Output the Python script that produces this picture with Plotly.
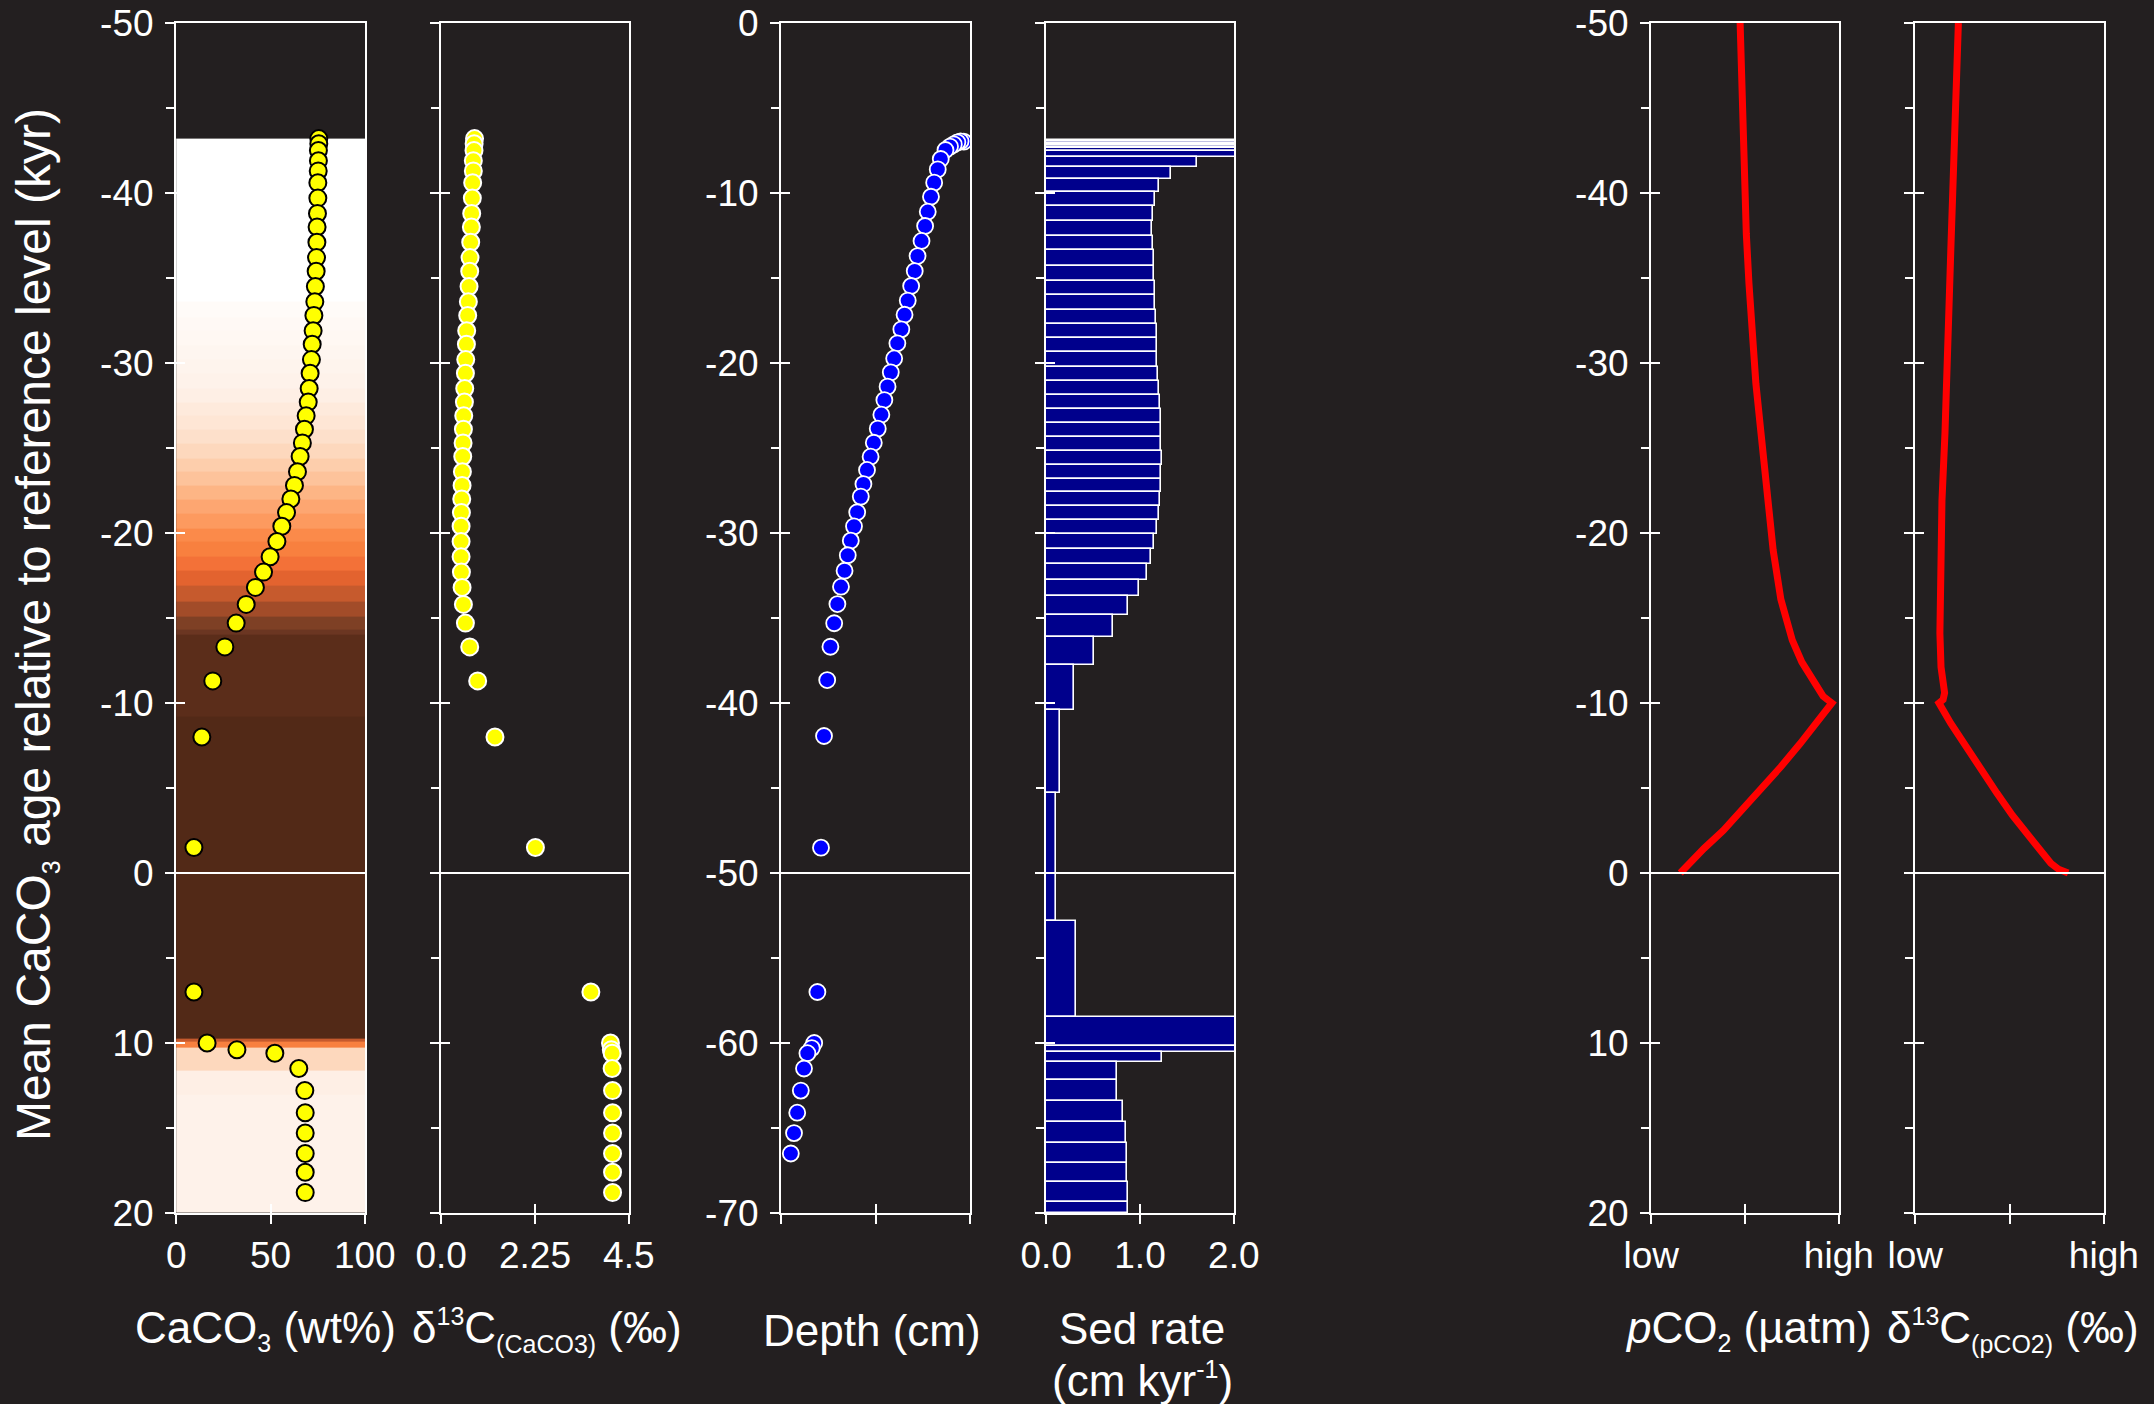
import plotly.graph_objects as go

# ---------------- data ----------------
# Panels 1-2: sample ages (kyr), CaCO3 (wt%), d13C of CaCO3 (permil)
sample_age = [-43.2, -42.9, -42.5, -41.9, -41.3, -40.6, -39.7, -38.8, -38.0, -37.1,
              -36.2, -35.4, -34.5, -33.6, -32.8, -31.9, -31.1, -30.2, -29.4, -28.5,
              -27.7, -26.9, -26.1, -25.3, -24.5, -23.6, -22.8, -22.0, -21.2, -20.4,
              -19.5, -18.6, -17.7, -16.8, -15.8, -14.7, -13.3, -11.3, -8.0, -1.5,
              7.0, 10.0, 10.4, 10.6, 11.5, 12.8, 14.1, 15.3, 16.5, 17.6, 18.8]
caco3 = [75.6, 75.6, 75.4, 75.4, 75.3, 75.1, 75.1, 74.9, 74.7, 74.6,
         74.4, 74.2, 73.8, 73.5, 73.0, 72.6, 72.1, 71.7, 71.0, 70.5,
         70.0, 68.9, 68.0, 66.9, 65.7, 64.3, 62.7, 60.8, 58.5, 56.0,
         53.4, 49.8, 46.3, 42.0, 37.1, 31.8, 25.8, 19.4, 13.6, 9.4,
         9.4, 16.4, 32.2, 52.3, 65.0, 68.2, 68.4, 68.4, 68.4, 68.4, 68.4]
d13c_caco3 = [0.80, 0.79, 0.787, 0.771, 0.771, 0.755, 0.747, 0.732, 0.724, 0.708,
              0.692, 0.684, 0.668, 0.652, 0.636, 0.612, 0.605, 0.589, 0.581, 0.565,
              0.557, 0.541, 0.533, 0.525, 0.517, 0.509, 0.501, 0.493, 0.485, 0.477,
              0.477, 0.477, 0.485, 0.501, 0.533, 0.581, 0.684, 0.875, 1.29, 2.26,
              3.59, 4.06, 4.08, 4.10, 4.10, 4.11, 4.11, 4.11, 4.11, 4.11, 4.11]

# Panel 1 background: CaCO3 bands (edges in kyr, CaCO3 wt% per band)
band_edges = [-43.2, -33.6, -32.7, -31.9, -31.0, -30.2, -29.4, -28.5, -27.7, -26.9,
              -26.06, -25.28, -24.39, -23.6, -22.76, -21.94, -21.12, -20.27, -19.49, -18.6,
              -17.76, -16.9, -15.96, -15.08, -14.33, -14.0, -9.2, 9.72, 9.9, 10.25,
              11.6, 13.06, 20.0]
band_caco3 = [76, 74.5, 74, 73.5, 73, 72.5, 72, 71, 70, 69,
              68, 67, 65.5, 64, 62, 60, 58, 55, 52, 48,
              44, 40, 37, 33, 30, 25, 10, 40, 52, 67,
              71, 72]

# Panel 3: depth (cm) vs relative position
depth_x = [96.8, 95.1, 93.4, 91.5, 89.5, 87.1, 84.6, 83.0, 81.1, 79.4,
           77.7, 76.3, 74.4, 72.3, 70.8, 68.9, 67.1, 65.4, 63.7, 61.6,
           59.9, 58.1, 56.4, 54.7, 53.1, 51.2, 49.1, 47.4, 45.5, 43.6,
           42.2, 40.3, 38.6, 36.9, 35.3, 33.6, 31.7, 29.8, 28.1, 26.1,
           24.4, 22.7, 21.1, 19.2, 17.5, 16.2, 13.9, 12.1, 10.4, 8.5,
           6.8, 5.1]
depth_cm = [-6.98, -6.96, -7.02, -7.14, -7.27, -7.47, -8.0, -8.61, -9.39, -10.22,
            -11.1, -11.94, -12.82, -13.71, -14.59, -15.47, -16.33, -17.16, -18.02, -18.84,
            -19.73, -20.55, -21.39, -22.18, -23.04, -23.86, -24.69, -25.51, -26.29, -27.12,
            -27.86, -28.78, -29.61, -30.45, -31.31, -32.22, -33.16, -34.18, -35.31, -36.69,
            -38.65, -41.94, -48.51, -57.0, -60.0, -60.3, -60.6, -61.5, -62.8, -64.1,
            -65.3, -66.5]

# Panel 4: sedimentation rate (cm/kyr) per depth interval
sed_top = [-6.86, -6.95, -7.04, -7.12, -7.2, -7.27, -7.33, -7.55, -7.9, -8.45, -9.18, -9.96,
           -10.76, -11.63, -12.51, -13.35, -14.27, -15.16, -16.0, -16.86, -17.71, -18.55,
           -19.37, -20.22, -21.04, -21.88, -22.73, -23.55, -24.37, -25.18, -26.0, -26.8,
           -27.6, -28.4, -29.25, -30.07, -30.94, -31.84, -32.76, -33.72, -34.82, -36.1,
           -37.74, -40.39, -45.27, -52.8, -58.5, -60.2, -60.53, -61.12, -62.16, -63.41,
           -64.67, -65.88, -67.06, -68.2, -69.35]
sed_bottom = sed_top[1:] + [-70.0]
sed_rate = [3.0, 3.0, 3.0, 3.0, 3.0, 3.0, 2.5, 2.2, 1.61, 1.333, 1.199, 1.156,
            1.135, 1.127, 1.135, 1.144, 1.148, 1.156, 1.165, 1.169, 1.178, 1.182,
            1.186, 1.195, 1.203, 1.211, 1.22, 1.224, 1.228, 1.233, 1.228, 1.224,
            1.211, 1.199, 1.186, 1.148, 1.119, 1.072, 0.988, 0.874, 0.715, 0.509,
            0.294, 0.147, 0.104, 0.319, 2.5, 2.5, 1.233, 0.757, 0.757, 0.82,
            0.853, 0.866, 0.866, 0.87, 0.87]

# Panel 5: pCO2 (relative, low=0 .. high=1)
pco2_age = [-50.0, -47.4, -43.5, -40.0, -37.6, -34.7, -31.7, -28.8, -25.9, -21.9,
            -19.0, -16.1, -15.1, -13.7, -12.4, -11.25, -10.4, -10.0, -9.0, -7.6,
            -6.25, -5.0, -3.7, -2.5, -1.45, -0.76, -0.22, 0.0]
pco2 = [0.474, 0.479, 0.487, 0.495, 0.507, 0.521, 0.537, 0.558, 0.585, 0.619,
        0.650, 0.691, 0.715, 0.752, 0.803, 0.865, 0.916, 0.963, 0.895, 0.793,
        0.691, 0.589, 0.487, 0.384, 0.282, 0.221, 0.169, 0.155]

# Panel 6: d13C of pCO2 (relative, low=0 .. high=1)
d13c_pco2_age = [-50.0, -47.4, -43.5, -40.0, -36.7, -32.7, -29.8, -25.9, -21.9, -16.1,
                 -14.1, -12.1, -11.0, -10.6, -10.2, -10.0, -8.8, -7.4, -6.1, -4.7,
                 -3.4, -2.2, -1.25, -0.57, -0.22, 0.0]
d13c_pco2 = [0.229, 0.219, 0.209, 0.199, 0.189, 0.179, 0.168, 0.158, 0.142, 0.133,
             0.131, 0.137, 0.150, 0.156, 0.148, 0.126, 0.189, 0.270, 0.352, 0.433,
             0.515, 0.597, 0.668, 0.719, 0.760, 0.811]

# tick labels
age_ticks = [-50, -40, -30, -20, -10, 0, 10, 20]
age_ticktext = ['-50', '-40', '-30', '-20', '-10', '0', '10', '20']
depth_ticks = [-70, -60, -50, -40, -30, -20, -10, 0]
depth_ticktext = ['-70', '-60', '-50', '-40', '-30', '-20', '-10', '0']

# ---------------- style / layout ----------------
W, H = 2154, 1404
BG = '#231f20'
FONT = "'Liberation Sans', Arial, Helvetica, sans-serif"
TOP, BOT = 23, 1213
EPS = 1e-3
dom_px = {1: (176, 365), 2: (441, 629), 3: (781, 970),
          4: (1046, 1234), 5: (1651, 1839), 6: (1915, 2104)}

band_scale_pts = [(10, '#522917'), (25, '#5b2d1a'), (30, '#6b3622'), (33, '#7e4025'),
                  (37, '#a24c29'), (40, '#c65a2d'), (44, '#e3632f'), (48, '#f37138'),
                  (52, '#f8803f'), (55, '#fb8a4a'), (58, '#fd9a5f'), (60, '#fda671'),
                  (62, '#fdb585'), (64, '#fdc39b'), (65.5, '#fdceac'), (67, '#fdd8bd'),
                  (68, '#fde0cb'), (69, '#fee6d5'), (70, '#feeadc'), (71, '#feefe5'),
                  (72, '#fef2ea'), (73, '#fef6f0'), (74, '#fff9f5'), (76, '#ffffff')]
zmin, zmax = 10, 76
colorscale = [[(v - zmin) / (zmax - zmin), c] for v, c in band_scale_pts]

fig = go.Figure()

# Panel 1
fig.add_trace(go.Heatmap(x=[0, 100], y=band_edges, z=[[v] for v in band_caco3],
                         colorscale=colorscale, zmin=zmin, zmax=zmax, showscale=False,
                         zsmooth=False, hoverinfo='skip', xaxis='x', yaxis='y'))
fig.add_trace(go.Scatter(x=caco3, y=sample_age, mode='markers', xaxis='x', yaxis='y',
                         marker=dict(size=17, color='#ffff00', line=dict(color='black', width=2))))
# Panel 2
fig.add_trace(go.Scatter(x=d13c_caco3, y=sample_age, mode='markers', xaxis='x2', yaxis='y2',
                         marker=dict(size=17, color='#ffff00', line=dict(color='white', width=2))))
# Panel 3
fig.add_trace(go.Scatter(x=depth_x, y=depth_cm, mode='markers', xaxis='x3', yaxis='y3',
                         marker=dict(size=16, color='#0000ff', line=dict(color='white', width=1.8))))
# Panel 4
fig.add_trace(go.Bar(orientation='h',
                     y=[(t + b) / 2 for t, b in zip(sed_top, sed_bottom)],
                     width=[t - b for t, b in zip(sed_top, sed_bottom)],
                     x=sed_rate, xaxis='x4', yaxis='y4',
                     marker=dict(color='#00008c', line=dict(color='white', width=1.6))))
# Panel 5 & 6
fig.add_trace(go.Scatter(x=pco2, y=pco2_age, mode='lines', xaxis='x5', yaxis='y5',
                         line=dict(color='#ff0000', width=7)))
fig.add_trace(go.Scatter(x=d13c_pco2, y=d13c_pco2_age, mode='lines', xaxis='x6', yaxis='y6',
                         line=dict(color='#ff0000', width=7)))

tickfont = dict(family=FONT, size=37, color='white')
base = dict(showline=True, linecolor='white', linewidth=2, mirror=True, showgrid=False,
            zeroline=False, ticks='outside', ticklen=9, tickwidth=2, tickcolor='white',
            tickfont=tickfont, automargin=False)

xspec = {
    1: dict(range=[0, 100], tickvals=[0, 50, 100], ticktext=['0', '50', '100']),
    2: dict(range=[0, 4.5], tickvals=[0, 2.25, 4.5], ticktext=['0.0', '2.25', '4.5']),
    3: dict(range=[0, 100], tickvals=[0, 50, 100], ticktext=[' ', ' ', ' ']),
    4: dict(range=[0, 2.0], tickvals=[0, 1, 2], ticktext=['0.0', '1.0', '2.0']),
    5: dict(range=[0, 1], tickvals=[0, 0.5, 1], ticktext=['low', ' ', 'high']),
    6: dict(range=[0, 1], tickvals=[0, 0.5, 1], ticktext=['low', ' ', 'high']),
}
for s in xspec.values():
    s['range'] = [s['range'][0] - EPS * s['range'][1], s['range'][1] * (1 + EPS)]
age_y = dict(range=[20 + EPS, -50 - EPS], tickmode='array', tickvals=age_ticks,
             ticktext=age_ticktext)
depth_y = dict(range=[-70 - EPS, 0 + EPS], tickmode='array', tickvals=depth_ticks,
               ticktext=depth_ticktext)
yspec = {1: (age_y, True), 2: (age_y, False), 3: (depth_y, True),
         4: (depth_y, False), 5: (age_y, True), 6: (age_y, False)}

layout_axes = {}
for i in range(1, 7):
    d = [dom_px[i][0] / W, dom_px[i][1] / W]
    xs = 'xaxis' if i == 1 else f'xaxis{i}'
    ys = 'yaxis' if i == 1 else f'yaxis{i}'
    yref = 'y' if i == 1 else f'y{i}'
    xref = 'x' if i == 1 else f'x{i}'
    layout_axes[xs] = dict(base, domain=d, anchor=yref, ticklabelstandoff=0, **xspec[i])
    ys_spec, lab = yspec[i]
    layout_axes[ys] = dict(base, domain=[0, 1], anchor=xref, showticklabels=lab,
                           ticklabelstandoff=4,
                           minor=dict(ticks='outside', ticklen=8, tickwidth=2,
                                      tickcolor='white', dtick=5, tick0=0),
                           **ys_spec)
    # overlay axes for the inner half of crossing major ticks
    ox, oy = i + 6, i + 6
    layout_axes[f'xaxis{ox}'] = dict(overlaying=xref, anchor=yref, side='bottom',
                                     range=xspec[i]['range'], tickmode='array',
                                     tickvals=xspec[i]['tickvals'],
                                     ticks='inside', ticklen=9, tickwidth=2, tickcolor='white',
                                     showticklabels=False, showline=False, showgrid=False,
                                     zeroline=False, automargin=False)
    layout_axes[f'yaxis{oy}'] = dict(overlaying=yref, anchor=xref, side='left',
                                     ticks='inside', ticklen=9, tickwidth=2, tickcolor='white',
                                     showticklabels=False, showline=False, showgrid=False,
                                     zeroline=False, automargin=False,
                                     range=ys_spec['range'], tickmode='array',
                                     tickvals=ys_spec['tickvals'])
    fig.add_trace(go.Scatter(x=[None], y=[None], xaxis=f'x{ox}', yaxis=yref,
                             showlegend=False, hoverinfo='skip'))
    fig.add_trace(go.Scatter(x=[None], y=[None], xaxis=xref, yaxis=f'y{oy}',
                             showlegend=False, hoverinfo='skip'))

shapes = []
for i, yv in [(1, 0), (2, 0), (3, -50), (4, -50), (5, 0), (6, 0)]:
    xr = 'x' if i == 1 else f'x{i}'
    yr = 'y' if i == 1 else f'y{i}'
    shapes.append(dict(type='line', xref=f'{xr} domain', yref=yr, x0=0, x1=1, y0=yv, y1=yv,
                       line=dict(color='white', width=2), layer='above'))


def py(p):
    return (BOT - p) / (BOT - TOP)


SM = '<span style="font-size:25px">'
titlefont = dict(family=FONT, size=44, color='white')
annos = [
    dict(text=f'CaCO<sub>{SM}3</span></sub> (wt%)', x=265 / W, y=py(1330)),
    dict(text=f'δ<sup>{SM}13</span></sup>C<sub>{SM}(CaCO3)</span></sub> (‰)', x=547 / W, y=py(1330)),
    dict(text='Depth (cm)', x=872 / W, y=py(1330)),
    dict(text='Sed rate', x=1142 / W, y=py(1328)),
    dict(text=f'(cm kyr<sup>{SM}-1</span></sup>)', x=1142 / W, y=py(1380)),
    dict(text=f'<i>p</i>CO<sub>{SM}2</span></sub> (µatm)', x=1748 / W, y=py(1330)),
    dict(text=f'δ<sup>{SM}13</span></sup>C<sub>{SM}(pCO2)</span></sub> (‰)', x=2013 / W, y=py(1330)),
]
for a in annos:
    a.update(xref='paper', yref='paper', xanchor='center', yanchor='middle',
             showarrow=False, font=titlefont)
annos.append(dict(text=f'Mean CaCO<sub>{SM}3</span></sub> age relative to reference level (kyr)',
                  x=36 / W, y=py(625), xref='paper', yref='paper', textangle=-90,
                  xanchor='center', yanchor='middle', showarrow=False,
                  font=dict(family=FONT, size=48, color='white')))

fig.update_layout(template='none', width=W, height=H, paper_bgcolor=BG, plot_bgcolor=BG,
                  margin=dict(l=0, r=0, t=TOP, b=H - BOT, autoexpand=False), showlegend=False,
                  hovermode=False, bargap=0, shapes=shapes, annotations=annos,
                  font=dict(family=FONT, color='white'), **layout_axes)

fig.write_html('out.html')
